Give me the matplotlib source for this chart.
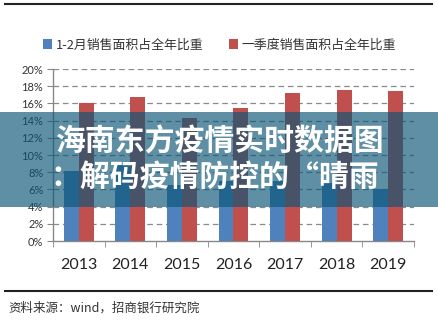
import matplotlib
matplotlib.use("Agg")
import matplotlib.pyplot as plt
import numpy as np
from matplotlib.lines import Line2D
from matplotlib.patches import Rectangle

plt.rcParams['font.family'] = ['Noto Sans CJK SC', 'DejaVu Sans']

years = ['2013', '2014', '2015', '2016', '2017', '2018', '2019']
share_jan_feb = [8.1, 8.8, 6.5, 7.0, 7.0, 6.7, 6.0]       # 1-2月销售面积占全年比重 (%)
share_q1 = [16.0, 16.7, 14.3, 15.5, 17.2, 17.6, 17.4]      # 一季度销售面积占全年比重 (%)
series_names = ['1-2月销售面积占全年比重', '一季度销售面积占全年比重']
yticks = np.arange(0, 21, 2)

W, H = 439, 323
fig = plt.figure(figsize=(W / 100, H / 100), dpi=100)
fig.patch.set_facecolor('white')


def px(x0, y0, x1, y1):
    # pixel box (top-left origin) -> figure fraction rect
    return [x0 / W, 1 - y1 / H, (x1 - x0) / W, (y1 - y0) / H]


ax = fig.add_axes(px(53, 69, 414, 241))
x = np.arange(len(years))
bw = 0.29
b1 = ax.bar(x - bw / 2, share_jan_feb, width=bw, color='#4F81BD', zorder=3)
b2 = ax.bar(x + bw / 2, share_q1, width=bw, color='#C0504D', zorder=3)

ax.set_xlim(-0.5, len(years) - 0.5)
ax.set_ylim(0, 20)
ax.set_yticks(yticks)
ax.set_yticklabels([f'{v}%' for v in yticks], fontsize=8, color='#333333',
                   family=['Lato', 'DejaVu Sans'])
ax.set_xticks(x)
ax.set_xticklabels(years, fontsize=11.5, color='#222222', family=['Lato', 'DejaVu Sans'])
ax.set_xticks(np.arange(-0.5, len(years)), minor=True)
ax.tick_params(axis='x', which='major', length=0, pad=12)
ax.tick_params(axis='x', which='minor', length=4, color='#888888', direction='out')
ax.tick_params(axis='y', length=4, color='#888888', direction='out', pad=3)

for v in yticks[1:]:
    ax.axhline(v, color='#8a8a8a', lw=0.9, ls=(0, (4.5, 3)), zorder=1)

for side in ['top', 'right']:
    ax.spines[side].set_visible(False)
for side in ['left', 'bottom']:
    ax.spines[side].set_color('#888888')
    ax.spines[side].set_linewidth(1)

fig.legend([b1, b2], series_names, loc='center', bbox_to_anchor=(0.5, 1 - 45 / H),
           ncol=2, frameon=False, fontsize=9.3, handlelength=0.7, handleheight=0.7,
           columnspacing=2.0, handletextpad=0.3, labelcolor='#333333')

# header / footer rules
fig.add_artist(Line2D([5 / W, 432 / W], [1 - 4 / H, 1 - 4 / H], color='#222222', lw=1.5))
fig.add_artist(Line2D([5 / W, 432 / W], [1 - 291 / H, 1 - 291 / H], color='#222222', lw=1.5))
fig.text(8 / W, 1 - 308 / H, '资料来源：wind，招商银行研究院', fontsize=9, color='#333333',
         va='center', ha='left')

# overlay title band
fig.add_artist(Rectangle((0, 1 - 207 / H), 1, 95 / H, transform=fig.transFigure,
                         facecolor='#0a5576', alpha=0.66, edgecolor='none', zorder=5))
fig.text(56 / W, 1 - 142 / H, '海南东方疫情实时数据图', fontsize=21.5, color='white',
         fontweight='heavy', va='center', ha='left', zorder=6)
fig.text(50 / W, 1 - 177 / H, '：解码疫情防控的“晴雨', fontsize=21.5, color='white',
         fontweight='heavy', va='center', ha='left', zorder=6)

fig.savefig('out.png', dpi=100)
